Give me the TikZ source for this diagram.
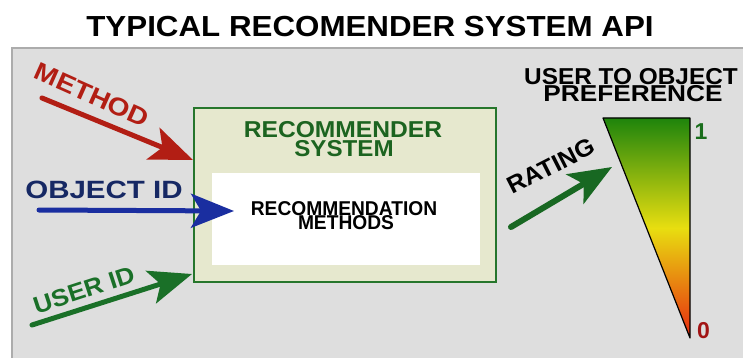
\documentclass[tikz,border=0pt]{standalone}
\usepackage{fontspec}
\usepackage{graphicx}
\setmainfont{Liberation Sans}
\usetikzlibrary{arrows.meta}
\definecolor{panelgray}{RGB}{222,222,222}
\definecolor{panelborder}{RGB}{172,172,172}
\definecolor{boxfill}{RGB}{230,232,206}
\definecolor{boxgreen}{RGB}{38,118,44}
\definecolor{sysgreen}{RGB}{28,100,32}
\definecolor{methred}{RGB}{178,30,20}
\definecolor{objnavy}{RGB}{22,40,100}
\definecolor{objblue}{RGB}{26,46,160}
\definecolor{usergreen}{RGB}{26,112,40}
\definecolor{rategreen}{RGB}{24,104,34}
\definecolor{tgreen}{RGB}{30,132,12}
\definecolor{tyellow}{RGB}{232,222,16}
\definecolor{tred}{RGB}{232,40,16}
\definecolor{onegreen}{RGB}{26,110,28}
\definecolor{zerored}{RGB}{162,20,20}
\newcommand{\fs}[1]{\fontsize{#1}{#1}\selectfont\bfseries}
\tikzset{
  lbl/.style={inner sep=0pt, outer sep=0pt},
  bigarrow/.style={line width=5pt, line cap=round,
    -{Stealth[length=43pt,width=34pt,inset=10pt]}},
}
\begin{document}
\begin{tikzpicture}[x=1pt,y=-1pt]
\useasboundingbox (0,0) rectangle (743,358);
\fill[white] (0,0) rectangle (743,358);
% panel
\draw[fill=panelgray, draw=panelborder, line width=2pt] (12,48) rectangle (748,364);
% title
\node[lbl, anchor=base] (title) at (370,37) {\fs{29}\scalebox{1.08}[1]{TYPICAL RECOMENDER SYSTEM API}};
% recommender system box
\node[draw=boxgreen, fill=boxfill, line width=2.5pt, minimum width=302pt, minimum height=174pt, inner sep=0pt] (sys) at (345,195) {};
\node[fill=white, minimum width=268pt, minimum height=92pt, inner sep=0pt] (meth) at (346,219) {};
\node[lbl, anchor=base, text=sysgreen] (sys1) at (343,138) {\fs{23}\scalebox{1.07}[1]{RECOMMENDER}};
\node[lbl, anchor=base, text=sysgreen] (sys2) at (344,157) {\fs{23}\scalebox{1.05}[1]{SYSTEM}};
\node[lbl, anchor=base] (rm1) at (344,215) {\fs{20}\scalebox{0.96}[1]{RECOMMENDATION}};
\node[lbl, anchor=base] (rm2) at (346,229.5) {\fs{20}\scalebox{0.96}[1]{METHODS}};
% inputs
\node[lbl, rotate=-24, text=methred] (method) at (92,95) {\fs{25}\scalebox{1.13}[1]{METHOD}};
\node[lbl, anchor=base, text=objnavy] (objid) at (104,198) {\fs{25}\scalebox{1.18}[1]{OBJECT ID}};
\node[lbl, rotate=18, text=usergreen] (userid) at (84,290) {\fs{24}\scalebox{1.08}[1]{USER ID}};
\coordinate (ma) at (42,98);
\coordinate (mb) at (193,160);
\coordinate (oa) at (39,210);
\coordinate (ob) at (234,211);
\coordinate (ua) at (32,325);
\coordinate (ub) at (192,274);
\draw[bigarrow, draw=methred, fill=methred] (ma) -- (mb);
\draw[bigarrow, draw=objblue, fill=objblue] (oa) -- (ob);
\draw[bigarrow, draw=usergreen, fill=usergreen] (ua) -- (ub);
% rating
\node[lbl, rotate=27] (rating) at (551,166) {\fs{24}\scalebox{1.05}[1]{RATING}};
\coordinate (ra) at (511,227);
\coordinate (rb) at (612,167);
\draw[bigarrow, line width=6pt, draw=rategreen, fill=rategreen] (ra) -- (rb);
% preference triangle
\coordinate (t1) at (603,118);
\coordinate (t2) at (690,118);
\coordinate (t3) at (690,338);
\shade[top color=tgreen, bottom color=tred, middle color=tyellow] (t1) -- (t2) -- (t3) -- cycle;
\draw[black, line width=1.2pt, line join=round] (t1) -- (t2) -- (t3) -- cycle;
\node[lbl, anchor=base] (pref1) at (631,85) {\fs{23}\scalebox{1.06}[1]{USER TO OBJECT}};
\node[lbl, anchor=base] (pref2) at (633,102) {\fs{23}\scalebox{1.14}[1]{PREFERENCE}};
\node[lbl, anchor=base, text=onegreen] (one) at (701,140) {\fs{23}1};
\node[lbl, anchor=base, text=zerored] (zero) at (703.5,338) {\fs{23}0};
\end{tikzpicture}
\end{document}
